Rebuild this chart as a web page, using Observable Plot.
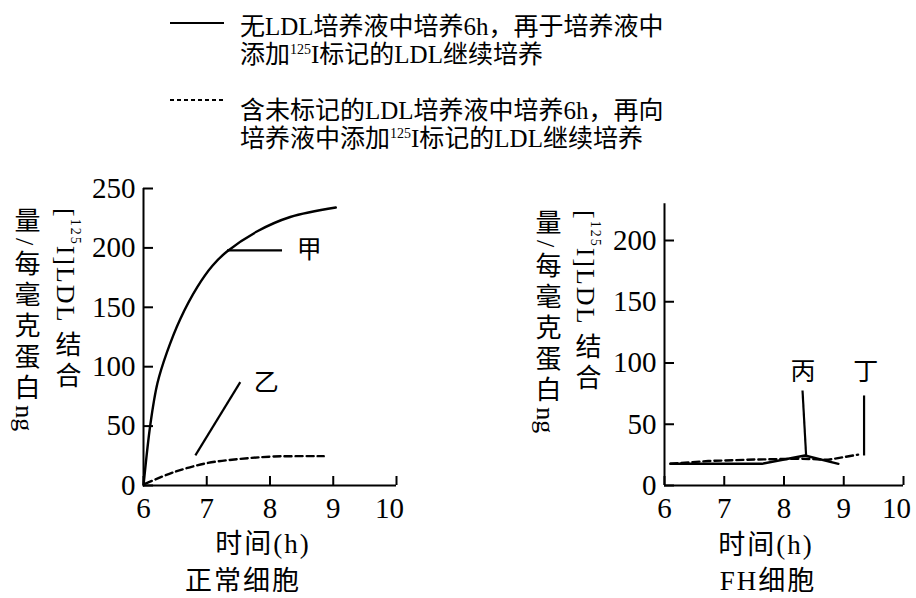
<!DOCTYPE html>
<html>
<head>
<meta charset="utf-8">
<script src="https://cdn.jsdelivr.net/npm/d3@7"></script>
<script src="https://cdn.jsdelivr.net/npm/@observablehq/plot@0.6"></script>
<style>
  html, body { margin: 0; padding: 0; background: #fff; }
  #root { position: relative; width: 916px; height: 598px; overflow: hidden; background: #fff;
          font-family: 'Liberation Serif', 'Noto Sans CJK SC', serif; color: #000; }
  .abs { position: absolute; }
  .legend { font-size: 25px; line-height: 27.5px; white-space: nowrap; }
  .legend sup { font-size: 14px; line-height: 0; vertical-align: 9px; }
  .ycol { writing-mode: vertical-rl; font-size: 26px; line-height: 30px; width: 30px; white-space: nowrap; }
  .ycol sup { font-size: 14px; line-height: 0; }
  .sp5 { letter-spacing: 5px; }
  .sp3 { letter-spacing: 2px; }
  .sp0 { letter-spacing: 0px; }
  .xlab { font-size: 27px; line-height: 30px; white-space: nowrap; transform: translate(-50%, -50%); letter-spacing: 2px; }
  svg { overflow: visible; }
</style>
</head>
<body>
<div id="root"></div>
<script>
// ---------- data ----------
const xTicks = [6, 7, 8, 9, 10];
const yTicksNormal = [0, 50, 100, 150, 200, 250];
const yTicksFH = [0, 50, 100, 150, 200];

// 正常细胞
const normalSolidX = [6, 6.11, 6.22, 6.37, 6.58, 6.85, 7.09, 7.32, 7.8, 8.32, 9.04];
const normalSolidY = [0, 52, 86, 112, 140, 167, 185, 197, 214, 226, 234];
const normalDashX = [6.03, 6.48, 7.0, 7.53, 8.06, 8.85];
const normalDashY = [1.5, 11.2, 18.8, 22.4, 24.4, 24.7];

// FH细胞
const fhSolidX = [6.1, 7.63, 8.35, 8.91];
const fhSolidY = [17.7, 17.7, 24.5, 17.7];
const fhDashX = [6.1, 6.73, 7.52, 8.3, 8.74, 9.24];
const fhDashY = [17.7, 20, 21.2, 21.9, 21, 25.2];

// curve labels and their leader lines
const normalLabels = ["甲", "乙"];
const normalLabelX = [8.62, 7.94];
const normalLabelY = [198, 86];
const normalLeaderX1 = [7.32, 6.82];
const normalLeaderY1 = [198, 25.3];
const normalLeaderX2 = [8.19, 7.53];
const normalLeaderY2 = [198, 87];

const fhLabels = ["丙", "丁"];
const fhLabelX = [8.32, 9.37];
const fhLabelY = [92.5, 92.5];
const fhLeaderX1 = [8.31, 9.34];
const fhLeaderY1 = [77.5, 73.5];
const fhLeaderX2 = [8.37, 9.34];
const fhLeaderY2 = [24.5, 24.5];

const legendSolid = ["无LDL培养液中培养6h，再于培养液中", "添加<sup>125</sup>I标记的LDL继续培养"];
const legendDash = ["含未标记的LDL培养液中培养6h，再向", "培养液中添加<sup>125</sup>I标记的LDL继续培养"];
const yLabelFirst = '<span class="sp3">[<sup>125</sup>I]LDL </span><span class="sp5">结合</span>';
const yLabelSecond = '<span class="sp5">量/每毫克蛋白</span><span class="sp0">ng</span>';
const xLabel = "时间(h)";
const captions = ["正常细胞", "FH细胞"];

// ---------- helpers ----------
const FONT = "'Liberation Serif', 'Noto Sans CJK SC', serif";
const zip = (xs, ys) => xs.map((x, i) => ({x, y: ys[i]}));
const segs = (x1, y1, x2, y2) => x1.map((v, i) => ({x1: v, y1: y1[i], x2: x2[i], y2: y2[i]}));
const labs = (t, xs, ys) => t.map((s, i) => ({t: s, x: xs[i], y: ys[i]}));
const lastTick = xTicks[xTicks.length - 1];

function panel({width, height, marginLeft, marginRight, marginTop, marginBottom, yDomain, yTicks,
                solid, dash, curve, leaders, labels}) {
  const svg = Plot.plot({
    width, height, marginLeft, marginRight, marginTop, marginBottom,
    x: {domain: [6, 10]},
    y: {domain: yDomain},
    style: {background: "transparent", overflow: "visible"},
    marks: [
      Plot.axisX({ticks: xTicks, tickFormat: d => d === lastTick ? "" : d3.format("d")(d),
                  tickSize: -9, tickPadding: 21, strokeWidth: 2, label: null, fontSize: 29, fontVariant: "normal"}),
      Plot.axisX({ticks: [lastTick], tickFormat: d3.format("d"), tickSize: 0, tickPadding: 12, dx: -7,
                  label: null, fontSize: 29, fontVariant: "normal"}),
      Plot.axisY({ticks: yTicks, tickFormat: d3.format("d"), tickSize: -10, tickPadding: 18,
                  strokeWidth: 2, label: null, fontSize: 29, fontVariant: "normal"}),
      Plot.ruleX([6], {stroke: "#000", strokeWidth: 2}),
      Plot.ruleY([yDomain[0]], {stroke: "#000", strokeWidth: 2}),
      Plot.line(solid, {x: "x", y: "y", curve, stroke: "#000", strokeWidth: 2.4}),
      Plot.line(dash, {x: "x", y: "y", curve, stroke: "#000", strokeWidth: 2.4, strokeDasharray: "7,4"}),
      Plot.link(leaders, {x1: "x1", y1: "y1", x2: "x2", y2: "y2", stroke: "#000", strokeWidth: 2.2}),
      Plot.text(labels, {x: "x", y: "y", text: "t", fontSize: 25, fill: "#000"})
    ]
  });
  svg.setAttribute("font-family", FONT);
  svg.querySelectorAll("g, text").forEach(el => {
    if (el.hasAttribute("font-family")) el.setAttribute("font-family", FONT);
  });
  svg.querySelectorAll("text").forEach(el => {
    el.style.fontFamily = FONT;
    el.style.fill = "#000";
  });
  return svg;
}

// ---------- layout ----------
const root = document.getElementById("root");
function add(html, cls, style) {
  const d = document.createElement("div");
  d.className = "abs " + cls;
  Object.assign(d.style, style);
  d.innerHTML = html;
  root.appendChild(d);
  return d;
}

// legend
function legendSample(top, dashed) {
  const ns = "http://www.w3.org/2000/svg";
  const s = document.createElementNS(ns, "svg");
  s.setAttribute("width", 56); s.setAttribute("height", 6);
  s.style.position = "absolute"; s.style.left = "169px"; s.style.top = (top - 3) + "px";
  const l = document.createElementNS(ns, "line");
  l.setAttribute("x1", 1); l.setAttribute("x2", 55); l.setAttribute("y1", 3); l.setAttribute("y2", 3);
  l.setAttribute("stroke", "#000"); l.setAttribute("stroke-width", 2.2);
  if (dashed) l.setAttribute("stroke-dasharray", "4,3");
  s.appendChild(l);
  root.appendChild(s);
}
legendSample(23, false);
legendSample(100, true);
add(legendSolid.join("<br>"), "legend", {left: "240px", top: "13px"});
add(legendDash.join("<br>"), "legend", {left: "240px", top: "97px"});

// panels
const left = panel({
  width: 430, height: 390, marginLeft: 143, marginRight: 34, marginTop: 38, marginBottom: 55,
  yDomain: [0, 250], yTicks: yTicksNormal,
  solid: zip(normalSolidX, normalSolidY), dash: zip(normalDashX, normalDashY), curve: "catmull-rom",
  leaders: segs(normalLeaderX1, normalLeaderY1, normalLeaderX2, normalLeaderY2),
  labels: labs(normalLabels, normalLabelX, normalLabelY)
});
left.style.position = "absolute"; left.style.left = "0px"; left.style.top = "150px";
root.appendChild(left);

const right = panel({
  width: 416, height: 390, marginLeft: 164, marginRight: 13, marginTop: 53.25, marginBottom: 55,
  yDomain: [0, 230], yTicks: yTicksFH,
  solid: zip(fhSolidX, fhSolidY), dash: zip(fhDashX, fhDashY), curve: "linear",
  leaders: segs(fhLeaderX1, fhLeaderY1, fhLeaderX2, fhLeaderY2),
  labels: labs(fhLabels, fhLabelX, fhLabelY)
});
right.style.position = "absolute"; right.style.left = "500px"; right.style.top = "150px";
root.appendChild(right);

// y-axis labels (vertical writing, columns read right to left)
add(yLabelFirst, "ycol", {left: "50px", top: "208px"});
add(yLabelSecond, "ycol", {left: "9px", top: "207px"});
add(yLabelFirst, "ycol", {left: "570px", top: "210px"});
add(yLabelSecond, "ycol", {left: "530px", top: "209px"});

// x-axis labels and captions
add(xLabel, "xlab", {left: "263px", top: "544px"});
add(captions[0], "xlab", {left: "243px", top: "581px"});
add(xLabel, "xlab", {left: "766px", top: "545px"});
add(captions[1], "xlab", {left: "768px", top: "581px"});
</script>
</body>
</html>
